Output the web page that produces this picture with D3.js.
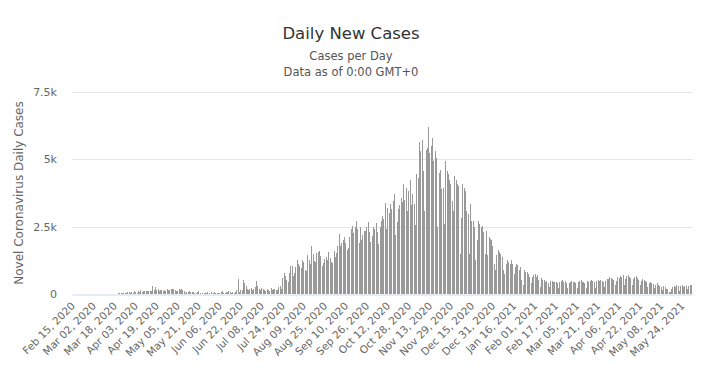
<!DOCTYPE html>
<html>
<head>
<meta charset="utf-8">
<script src="https://cdn.jsdelivr.net/npm/d3@7"></script>
<style>
  body { margin: 0; background: #fff; }
  svg { display: block; font-family: "DejaVu Sans", sans-serif; }
</style>
</head>
<body>
<div class="chart"></div>
<script>
//Daily new cases, one array per month
var feb20 = [0,0,0,0,0,0,0,0,0,0,0,0,0,0,0];
var mar20 = [0,1,0,0,0,0,0,0,0,1,3,0,1,1,10,10,16,6,9,9,23,19,28,27,55,50,50,73,56,46,82];
var apr20 = [37,117,83,52,107,84,162,87,93,97,121,118,97,121,105,282,135,243,140,190,100,162,164,125,145,102,190,150,166,190];
var may20 = [174,189,135,94,101,189,165,204,131,117,46,75,65,105,89,90,67,50,27,89,112,24,17,49,35,28,55,79,53,8,73];
var jun20 = [22,80,47,46,39,30,82,93,34,45,65,81,100,68,33,73,35,70,142,539,80,150,150,520,420,280,200,150,180,240];
var jul20 = [150,200,260,480,300,170,130,230,180,150,120,180,160,110,240,140,200,190,130,160,250,290,200,600,780,650,520,430,780,1030,1050];
var aug20 = [650,780,1020,1280,1100,1050,960,1280,1180,900,850,1460,1280,1100,1776,1490,1240,1200,1530,1560,1590,1400,1050,1150,1300,1380,1270,1550,1350,1180,1150];
var sep20 = [1600,1370,1520,1800,2210,1780,1900,2000,2130,1880,1650,1700,2100,2400,2530,2250,2500,2720,2400,1900,2480,1990,2200,2350,2350,2500,2660,2300,1920,2150];
var oct20 = [2480,2400,2620,2300,1860,2500,2720,2900,2800,3390,2400,3210,3000,3330,3150,3460,3700,2200,2660,3150,3300,3580,3400,4070,3500,3950,3100,3820,4250,3300,3700];
var nov20 = [3330,2550,4440,4300,5660,5300,5720,4560,3090,5360,5420,6195,5230,5480,5780,4930,5300,5050,2480,4500,4620,3880,3950,2600,4930,4560,4440,4250,4070,3460];
var dec20 = [3090,4380,4250,4070,4000,1500,2840,4070,3950,3820,3090,2970,1500,3330,2720,2720,2480,1250,1990,2720,2600,2480,2540,2290,1500,2350,1430,2100,2050,2000,1800];
var jan21 = [1130,880,1430,1620,1560,1500,1370,880,760,1130,1250,1190,1130,1250,1130,760,1000,1130,1070,880,1000,510,330,880,820,820,760,640,390,640,700];
var feb21 = [760,640,700,510,270,580,510,510,450,480,420,250,470,500,440,430,460,400,230,450,480,520,440,470,410,240,420,460];
var mar21 = [480,430,450,400,220,440,470,510,450,430,400,210,470,450,480,520,500,430,230,490,530,480,510,470,440,250,500,540,560,620,590];
var apr21 = [560,520,330,480,620,600,670,640,710,340,560,650,700,620,580,350,560,640,650,600,520,330,480,560,520,470,430,250,420,440];
var may21 = [400,380,230,330,390,350,300,250,130,280,260,200,180,90,60,170,270,300,260,340,300,120,280,330,250,310,300,180,290,340,330];

var cases = [].concat(feb20, mar20, apr20, may20, jun20, jul20, aug20, sep20,
                      oct20, nov20, dec20, jan21, feb21, mar21, apr21, may21);

//Categories: one per day from Feb 15, 2020
var days = d3.timeDay.range(new Date(2020, 1, 15), new Date(2021, 5, 1));

//Tick labels, every 16th day
var tickLabels = ['Feb 15, 2020','Mar 02, 2020','Mar 18, 2020','Apr 03, 2020','Apr 19, 2020',
  'May 05, 2020','May 21, 2020','Jun 06, 2020','Jun 22, 2020','Jul 08, 2020','Jul 24, 2020',
  'Aug 09, 2020','Aug 25, 2020','Sep 10, 2020','Sep 26, 2020','Oct 12, 2020','Oct 28, 2020',
  'Nov 13, 2020','Nov 29, 2020','Dec 15, 2020','Dec 31, 2020','Jan 16, 2021','Feb 01, 2021',
  'Feb 17, 2021','Mar 05, 2021','Mar 21, 2021','Apr 06, 2021','Apr 22, 2021','May 08, 2021',
  'May 24, 2021'];
var yTicks = [0, 2500, 5000, 7500];
var yTickLabels = ['0', '2.5k', '5k', '7.5k'];

//Layout
var W = 703, H = 371;
var plotLeft = 72, plotRight = 692, plotTop = 92, plotBottom = 294;

var svg = d3.select('.chart').append('svg')
            .attr('width', W)
            .attr('height', H);

var x = d3.scaleBand()
          .domain(d3.range(days.length))
          .range([plotLeft, plotRight]);
var y = d3.scaleLinear()
          .domain([0, 7500])
          .range([plotBottom, plotTop]);

//Titles
svg.append('text')
   .attr('x', 351).attr('y', 39)
   .attr('text-anchor', 'middle')
   .attr('font-size', 16.5)
   .attr('fill', '#333')
   .text('Daily New Cases');
svg.append('text')
   .attr('x', 351).attr('y', 60)
   .attr('text-anchor', 'middle')
   .attr('font-size', 11.5)
   .attr('fill', '#555')
   .text('Cases per Day');
svg.append('text')
   .attr('x', 351).attr('y', 76)
   .attr('text-anchor', 'middle')
   .attr('font-size', 11.5)
   .attr('fill', '#555')
   .text('Data as of 0:00 GMT+0');

//Grid + y labels
var yAxis = svg.append('g');
yAxis.selectAll('line')
     .data(yTicks.slice(1))
     .enter()
     .append('line')
     .attr('x1', plotLeft).attr('x2', plotRight + 1)
     .attr('y1', function(d) { return Math.round(y(d)) + 0.5; })
     .attr('y2', function(d) { return Math.round(y(d)) + 0.5; })
     .attr('stroke', '#e6e6e6');
yAxis.selectAll('text')
     .data(yTicks)
     .enter()
     .append('text')
     .attr('x', 57)
     .attr('y', function(d) { return y(d) + 4; })
     .attr('text-anchor', 'end')
     .attr('font-size', 11)
     .attr('fill', '#666')
     .text(function(d, i) { return yTickLabels[i]; });

svg.append('text')
   .attr('transform', 'translate(23,' + ((plotTop + plotBottom) / 2) + ') rotate(-90)')
   .attr('text-anchor', 'middle')
   .attr('font-size', 12)
   .attr('fill', '#666')
   .text('Novel Coronavirus Daily Cases');

//Bars
svg.append('g').selectAll('rect')
   .data(cases)
   .enter()
   .append('rect')
   .attr('x', function(d, i) { return Math.round(x(i) + x.bandwidth() / 2 - 0.5); })
   .attr('y', function(d) { return Math.round(y(d)); })
   .attr('width', 1)
   .attr('height', function(d) { return plotBottom - Math.round(y(d)); })
   .attr('fill', '#999')
   .attr('shape-rendering', 'crispEdges');

//X axis
var xAxis = d3.axisBottom(x)
              .tickValues(d3.range(0, days.length, 16))
              .tickSize(0)
              .tickFormat(function(d) { return tickLabels[d / 16]; });

var gx = svg.append('g')
            .attr('transform', 'translate(0,' + (plotBottom + 0.5) + ')')
            .call(xAxis);
gx.select('.domain').attr('stroke', '#ccd6eb');
gx.selectAll('text')
  .attr('font-family', '"DejaVu Sans", sans-serif')
  .attr('font-size', 10.5)
  .attr('fill', '#666')
  .attr('text-anchor', 'end')
  .attr('dy', null)
  .attr('y', 0)
  .attr('transform', 'translate(3,12) rotate(-45)');
</script>
</body>
</html>
